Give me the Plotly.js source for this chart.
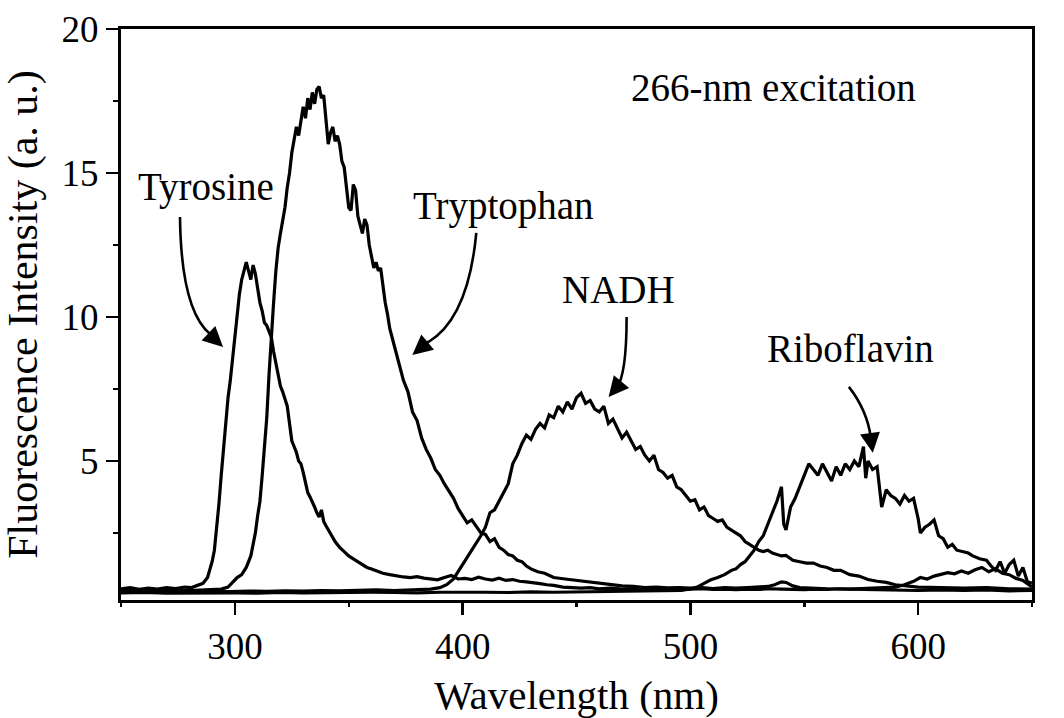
<!DOCTYPE html>
<html>
<head>
<meta charset="utf-8">
<script src="https://cdn.plot.ly/plotly-3.0.1.min.js"></script>
<style>html,body{margin:0;padding:0;background:#fff;}#chart{width:1064px;height:718px;}</style>
</head>
<body>
<div id="chart"></div>
<script>
// ---- Data (wavelength in nm, intensity in a.u.) ----
const tyrWl = [
  250,254,258,262,266,270,274,278,281,284,
  286,288,289,290,291,292,293,294,295,296,
  297,298,299,300,301,302,303,304,305,306,
  307,308,309,310,311,312,313,314,315,316,
  317,318,319,320,321,322,323,324,325,326,
  327,328,329,330,331,332,333,334,335,336,
  337,338,339,340,341,342,343,344,345,346,
  348,350,352,354,356,358,360,362,365,368,
  371,374,377,380,383,386,389,392,395,398,
  401,404,407,410,413,416,419,422,425,428,
  431,434,437,440,444,448,452,456,460,465,
  470,475,480,485,490,495,500,505,510,515,
  520,525,530,535,540,545,550,555,560,565,
  570,575,580,585,590,594,598,601,604,607,
  610,613,616,619,622,625,628,631,634,637,
  640,643,646,650];
const tyrI = [
  0.56,0.6,0.54,0.58,0.55,0.6,0.57,0.62,0.6,0.68,
  0.75,0.95,1.2,1.5,1.9,2.6,3.5,4.5,5.4,6.4,
  7.2,7.8,8.6,9.4,10.1,10.8,11.3,11.6,11.9,11.6,
  11.3,11.8,11.5,11.0,10.5,10.2,9.8,9.7,9.5,9.3,
  8.8,8.4,8.0,7.6,7.4,7.1,6.9,6.3,5.7,5.5,
  5.3,5.0,4.9,4.6,4.2,3.9,3.75,3.6,3.4,3.2,
  3.05,3.3,2.9,2.75,2.6,2.5,2.35,2.2,2.1,2.0,
  1.85,1.7,1.6,1.5,1.4,1.3,1.25,1.18,1.1,1.05,
  1.0,0.97,0.95,0.98,0.93,0.9,0.87,0.95,1.02,0.9,
  0.92,0.88,0.96,0.9,0.86,0.93,0.85,0.88,0.82,0.8,
  0.78,0.74,0.7,0.68,0.62,0.6,0.58,0.6,0.56,0.58,
  0.55,0.57,0.54,0.56,0.55,0.53,0.55,0.56,0.54,0.55,
  0.53,0.55,0.54,0.56,0.55,0.54,0.53,0.55,0.54,0.56,
  0.55,0.57,0.58,0.6,0.62,0.7,0.82,0.95,0.9,1.0,
  1.05,1.12,1.08,1.18,1.1,1.22,1.3,1.15,1.25,1.1,
  1.05,0.92,0.85,0.62];

const trpWl = [
  250,255,260,265,270,275,280,285,290,294,
  297,299,301,303,305,307,309,310,311,312,
  313,314,315,316,317,318,319,320,321,322,
  323,324,325,326,327,328,329,330,331,332,
  333,334,335,336,337,338,339,340,341,342,
  343,344,345,346,347,348,349,350,351,352,
  353,354,355,356,357,358,359,360,361,362,
  363,364,365,366,367,368,370,372,374,376,
  378,380,382,384,386,388,390,392,394,396,
  398,400,402,404,406,408,410,412,414,416,
  418,420,422,424,426,428,430,433,436,440,
  445,450,455,460,465,470,475,480,485,490,
  495,500,505,510,515,520,525,530,534,537,
  540,542,545,548,552,560,570,580,590,600,
  610,620,630,640,650];
const trpI = [
  0.5,0.52,0.49,0.51,0.5,0.53,0.5,0.52,0.54,0.55,
  0.62,0.8,0.95,1.05,1.3,1.7,2.5,3.1,3.6,4.5,
  5.5,6.5,8.0,9.4,10.5,11.6,12.4,12.9,13.4,13.8,
  14.5,15.0,15.7,16.2,16.6,16.3,16.9,17.3,16.9,17.6,
  17.2,17.8,17.4,17.9,18.0,17.6,17.7,16.9,16.0,16.4,
  16.6,16.1,16.3,16.0,15.4,15.2,14.5,13.8,13.7,14.6,
  14.4,13.5,13.2,12.9,13.4,13.2,12.5,12.1,11.7,11.9,
  11.6,11.7,11.0,10.5,10.1,9.6,9.0,8.4,7.8,7.4,
  6.7,6.4,5.8,5.4,5.1,4.7,4.5,4.2,3.95,3.7,
  3.35,3.1,2.85,2.95,2.7,2.5,2.45,2.2,2.3,2.0,
  1.9,1.75,1.7,1.55,1.5,1.35,1.25,1.15,1.1,0.95,
  0.9,0.85,0.8,0.75,0.72,0.66,0.64,0.6,0.62,0.59,
  0.6,0.58,0.6,0.57,0.6,0.58,0.6,0.62,0.64,0.7,
  0.8,0.78,0.66,0.6,0.58,0.56,0.55,0.54,0.52,0.5,
  0.52,0.5,0.52,0.49,0.5];

const nadhWl = [
  250,258,266,274,282,290,298,306,314,322,
  330,338,346,354,362,370,378,386,390,393,
  396,398,400,402,404,406,408,410,412,414,
  416,418,420,422,424,426,428,430,432,434,
  436,438,440,442,444,446,448,450,452,454,
  456,458,460,462,464,466,468,470,472,474,
  476,478,480,482,484,486,488,490,492,494,
  496,498,500,502,504,506,508,510,512,514,
  516,518,520,522,524,526,528,530,532,534,
  536,538,540,542,545,548,551,554,557,560,
  563,566,570,574,578,582,586,590,595,600,
  610,620,630,640,650];
const nadhI = [
  0.45,0.47,0.44,0.46,0.45,0.47,0.46,0.48,0.47,0.49,
  0.48,0.5,0.49,0.5,0.52,0.5,0.53,0.55,0.6,0.7,
  0.9,1.15,1.4,1.6,1.9,2.1,2.4,2.7,3.2,3.3,
  3.6,3.9,4.2,4.9,5.2,5.6,5.9,5.75,6.1,6.3,
  6.15,6.6,6.5,6.9,6.7,7.05,6.8,7.2,7.35,7.0,
  7.1,6.8,6.7,6.9,6.3,6.45,6.1,5.8,6.0,5.7,
  5.4,5.5,5.2,5.0,5.2,4.7,4.6,4.4,4.5,4.1,
  4.0,3.8,3.6,3.65,3.3,3.4,3.1,3.0,2.9,2.95,
  2.7,2.6,2.5,2.4,2.2,2.1,2.0,1.9,1.85,1.9,
  1.8,1.75,1.7,1.72,1.55,1.5,1.45,1.45,1.35,1.3,
  1.2,1.2,1.05,1.0,0.88,0.82,0.78,0.7,0.66,0.62,
  0.6,0.58,0.6,0.56,0.55];

const ribWl = [
  250,260,270,280,290,300,310,320,330,340,
  350,360,370,380,390,400,410,420,430,440,
  450,460,470,480,490,496,500,503,506,509,
  512,515,518,520,522,524,526,528,530,532,
  534,536,538,540,541,542,544,546,548,550,
  552,554,556,558,560,562,564,566,568,570,
  572,574,576,577,578,580,582,584,586,588,
  590,592,594,596,598,600,601,603,605,607,
  609,611,613,615,617,620,622,624,627,630,
  632,634,636,638,640,642,644,646,648,650];
const ribI = [
  0.42,0.43,0.41,0.42,0.43,0.42,0.41,0.43,0.42,0.43,
  0.42,0.44,0.43,0.42,0.44,0.45,0.44,0.43,0.45,0.44,
  0.45,0.46,0.45,0.47,0.48,0.5,0.55,0.62,0.75,0.87,
  0.95,1.05,1.2,1.25,1.4,1.5,1.7,1.9,2.2,2.4,
  2.8,3.2,3.6,4.1,2.8,2.6,3.4,3.7,4.1,4.5,
  4.9,4.7,4.5,4.9,4.6,4.3,4.8,4.5,4.9,4.7,
  5.0,4.8,5.5,4.4,5.0,4.7,4.8,3.4,4.0,3.8,
  3.7,3.5,3.8,3.6,3.7,3.0,2.5,2.7,2.8,2.95,
  2.4,2.3,2.0,2.1,1.9,1.85,1.8,1.7,1.6,1.55,
  1.35,1.2,1.5,1.1,1.4,1.55,1.0,1.3,0.8,0.75];

const seriesNames = ["Tyrosine", "Tryptophan", "NADH", "Riboflavin"];
const noteText = "266-nm excitation";
const xTitle = "Wavelength (nm)";
const yTitle = "Fluorescence Intensity (a. u.)";
const xMajorTicks = [300, 400, 500, 600];
const xMinorTicks = [250, 350, 450, 550, 650];
const yMajorTicks = [5, 10, 15, 20];
const yMinorTicks = [2.5, 7.5, 12.5, 17.5];
const xRange = [250, 650];
const yRange = [0.17, 20];

// ---- Figure ----
const FONT = "Liberation Serif, Times New Roman, serif";
const lineStyle = {color: "#000", width: 3.2};
const xs = [tyrWl, trpWl, nadhWl, ribWl];
const ys = [tyrI, trpI, nadhI, ribI];
const traces = xs.map((x, i) => ({
  x: x, y: ys[i], name: seriesNames[i], type: "scatter", mode: "lines",
  line: lineStyle, hoverinfo: "skip"
}));
// empty trace that only hosts the minor-tick axes
traces.push({x: [], y: [], xaxis: "x2", yaxis: "y2", type: "scatter", mode: "lines", hoverinfo: "skip"});

// curved arrow shafts (data coordinates) and arrowheads
function curve(x0, y0, cx, cy, x1, y1) {
  return {type: "path", xref: "x", yref: "y",
    path: `M ${x0},${y0} Q ${cx},${cy} ${x1},${y1}`,
    line: {color: "#000", width: 2.6}};
}
const shapes = [
  curve(275.9, 13.47, 276.4, 10.24, 289.1, 9.41),
  curve(406.0, 12.92, 402.5, 9.97, 385.0, 9.13),
  curve(472.0, 10.0, 472.0, 7.99, 467.6, 7.53),
  curve(569.6, 7.57, 577.5, 6.77, 579.2, 5.83)
];
function head(x, y, ax, ay) {
  return {x: x, y: y, ax: ax, ay: ay, xref: "x", yref: "y", axref: "x", ayref: "y",
    text: "", showarrow: true, arrowhead: 2, arrowsize: 1.6, arrowwidth: 2.5,
    arrowcolor: "#000", standoff: 0, startstandoff: 0};
}
function label(text, x, y) {
  return {x: x, y: y, xref: "x", yref: "y", text: text, showarrow: false,
    xanchor: "center", yanchor: "middle", font: {family: FONT, size: 39, color: "#000"}};
}
const annotations = [
  head(294.8, 8.96, 287.8, 9.48),
  head(377.9, 8.68, 385.8, 9.2),
  head(464.1, 7.22, 469.3, 7.71),
  head(580.1, 5.28, 578.8, 6.0),
  label(seriesNames[0], 287.4, 14.5),
  label(seriesNames[1], 417.9, 13.85),
  label(seriesNames[2], 468.5, 10.94),
  label(seriesNames[3], 570.4, 8.92),
  label(noteText, 536.6, 17.97)
];

const axisCommon = {
  showline: true, linecolor: "#000", linewidth: 3, mirror: true,
  showgrid: false, zeroline: false,
  ticks: "outside", ticklen: 12, tickwidth: 2.5, tickcolor: "#000",
  tickfont: {family: FONT, size: 37, color: "#000"}
};
const minorAxis = {
  showline: false, showgrid: false, zeroline: false, showticklabels: false,
  ticks: "outside", ticklen: 7, tickwidth: 2.5, tickcolor: "#000", tickmode: "array"
};
const layout = {
  width: 1064, height: 718,
  margin: {l: 121, r: 32, t: 29, b: 118, pad: 0},
  paper_bgcolor: "#fff", plot_bgcolor: "#fff",
  showlegend: false,
  font: {family: FONT, color: "#000"},
  xaxis: Object.assign({}, axisCommon, {
    range: xRange, tickmode: "array", tickvals: xMajorTicks,
    ticktext: xMajorTicks.map(String),
    title: {text: xTitle, font: {family: FONT, size: 41, color: "#000"}, standoff: 14}
  }),
  yaxis: Object.assign({}, axisCommon, {
    range: yRange, tickmode: "array", tickvals: yMajorTicks,
    ticktext: yMajorTicks.map(String),
    title: {text: yTitle, font: {family: FONT, size: 42, color: "#000"}, standoff: 14}
  }),
  xaxis2: Object.assign({}, minorAxis, {
    overlaying: "x", anchor: "y2", side: "bottom", range: xRange, tickvals: xMinorTicks, ticklen: 6
  }),
  yaxis2: Object.assign({}, minorAxis, {
    overlaying: "y", anchor: "x2", side: "left", range: yRange, tickvals: yMinorTicks
  }),
  shapes: shapes,
  annotations: annotations
};
Plotly.newPlot("chart", traces, layout, {displayModeBar: false, staticPlot: true});
</script>
</body>
</html>
